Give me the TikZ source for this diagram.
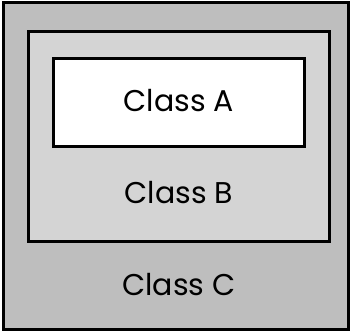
\documentclass[tikz,border=0pt]{standalone}
\usepackage{fontspec}
\setmainfont{Poppins}
\tikzset{%
  % box styles
  base/.style = {rectangle, draw=black, line width=3pt, inner sep=0pt},
  outerbox/.style = {base, fill=outergray},
  middlebox/.style = {base, fill=middlegray},
  innerbox/.style = {base, fill=white},
  classtext/.style = {font=\fontsize{30}{33}\selectfont, inner sep=0pt},
}
\definecolor{outergray}{RGB}{190,190,190}
\definecolor{middlegray}{RGB}{212,212,212}
\begin{document}
\begin{tikzpicture}[x=1pt, y=-1pt]
  \useasboundingbox (0,0) rectangle (352,332);
  % nested boxes
  \node (boxC) [outerbox, minimum width=345pt, minimum height=327pt] at (176,165.5) {};
  \node (boxB) [middlebox, minimum width=301pt, minimum height=210pt] at (178.5,136.5) {};
  \node (boxA) [innerbox, minimum width=250.5pt, minimum height=88pt] at (178.75,102) {};
  % labels
  \node (classA) [classtext] at (179,101) {Class A};
  \node (classB) [classtext] at (179,193) {Class B};
  \node (classC) [classtext] at (179,285) {Class C};
\end{tikzpicture}
\end{document}
